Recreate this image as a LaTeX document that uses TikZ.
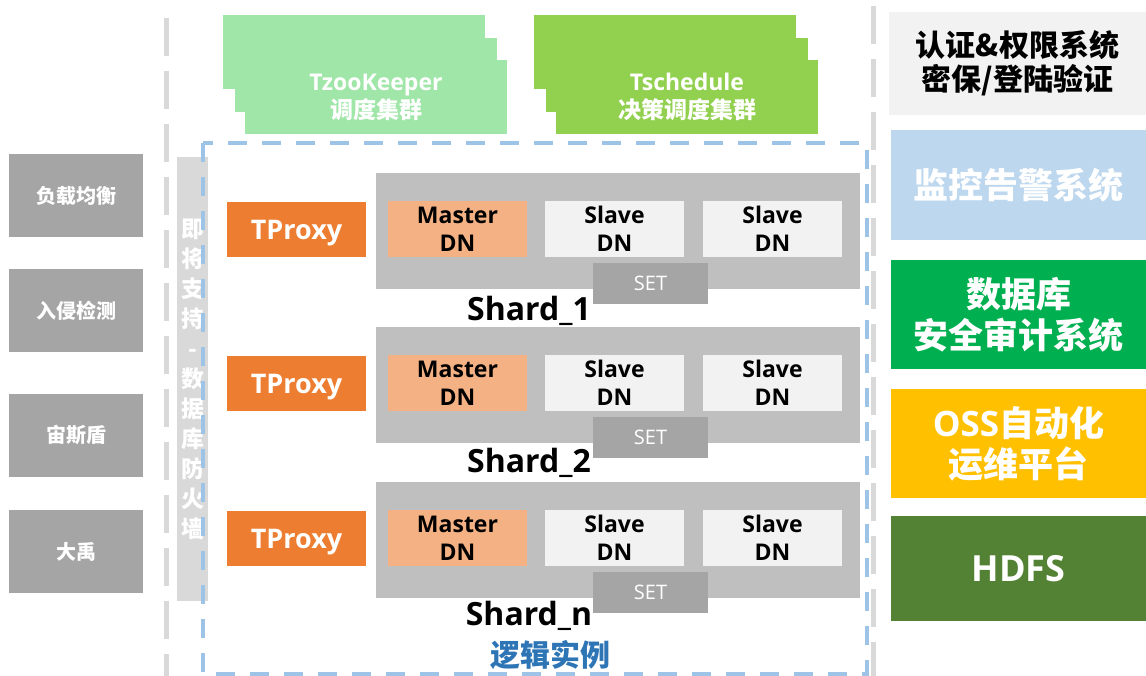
\documentclass[tikz,border=0pt]{standalone}
\usepackage{fontspec}
\setmainfont{Noto Sans CJK SC}
\newfontfamily\latinfont{Open Sans}
\newcommand{\setfs}[2]{\fontsize{#1}{#2}\selectfont}
% Colours
\definecolor{zkgreen}{HTML}{A0E6A8}
\definecolor{tsgreen}{HTML}{92D050}
\definecolor{sepgray}{HTML}{D9D9D9}
\definecolor{instblue}{HTML}{9DC3E6}
\definecolor{sidegray}{HTML}{A5A5A5}
\definecolor{proxyorange}{HTML}{ED7D31}
\definecolor{shardgray}{HTML}{BFBFBF}
\definecolor{masterorange}{HTML}{F4B183}
\definecolor{slavegray}{HTML}{F2F2F2}
\definecolor{monblue}{HTML}{BDD7EE}
\definecolor{auditgreen}{HTML}{00B050}
\definecolor{ossgold}{HTML}{FFC000}
\definecolor{hdfsgreen}{HTML}{548235}
\definecolor{logicblue}{HTML}{2E75B6}
\tikzset{
  block/.style={anchor=north west, inner sep=0pt, outer sep=0pt, align=center},
  sepline/.style={sepgray, line width=5pt, dash pattern=on 38pt off 15pt},
  instline/.style={instblue, line width=4pt, dash pattern=on 19pt off 15pt},
  sidebox/.style={block, fill=sidegray, text=white, minimum width=134pt, minimum height=83pt,
    font=\bfseries\setfs{20}{24}},
  proxybox/.style={block, fill=proxyorange, text=white, minimum width=139pt, minimum height=55pt,
    text depth=0pt, font=\latinfont\bfseries\setfs{27}{30}},
  dnbox/.style={block, minimum width=139pt, minimum height=56pt,
    font=\latinfont\bfseries\setfs{23}{28}},
  setbox/.style={block, fill=sidegray, text=white, minimum width=115pt, minimum height=41pt,
    font=\latinfont\setfs{20}{24}},
  shardlabel/.style={anchor=base, inner sep=0pt, font=\latinfont\bfseries\setfs{32}{36}},
  rightbox/.style={block, text=white, minimum width=255pt, font=\bfseries\setfs{35}{41}}
}

\begin{document}
\begin{tikzpicture}[x=1pt,y=-1pt]
    \useasboundingbox (0,0) rectangle (1146,676);
    % Gray dashed separators
    \draw[sepline] (166,18) -- (166,676);
    \draw[sepline] (873,6) -- (873,676);
    % Stacked cluster boxes at the top
    \foreach \k/\dx/\dy in {1/0/0, 2/12/23, 3/22/45} {
      \node[block, fill=zkgreen, minimum width=262pt, minimum height=74pt] (zk\k) at (223+\dx,15+\dy) {};
      \node[block, fill=tsgreen, minimum width=262pt, minimum height=74pt] (ts\k) at (534+\dx,15+\dy) {};
    }
    \node[align=center, text=white, inner sep=0pt, font=\bfseries\setfs{23}{28}] (zktext) at (zk3) {{\latinfont TzooKeeper}\\调度集群};
    \node[align=center, text=white, inner sep=0pt, font=\bfseries\setfs{23}{28}] (tstext) at (ts3) {{\latinfont Tschedule}\\决策调度集群};
    % Firewall bar
    \node[block, fill=sepgray, minimum width=31pt, minimum height=444pt] (fwbar) at (177,157) {};
    \node[align=center, text=white, inner sep=0pt, font=\bfseries\setfs{23}{30}] (fwtext) at (fwbar) {即\\将\\支\\持\\-\\数\\据\\库\\防\\火\\墙};
    % Logical instance frame
    \draw[instline] (203,143) rectangle (867,674);
    % Left side boxes
    \foreach \name/\y/\lbl in {lb/154/负载均衡, ids/269/入侵检测, zeus/394/宙斯盾, dayu/510/大禹}
    \node[sidebox] (\name) at (9,\y) {\lbl};
    % Shards with proxies
    \foreach \n/\dy/\lbl/\ly in {1/0/1/320, 2/154/2/472, 3/309/n/625} {
      \node[proxybox] (proxy\n) at (227,202+\dy) {TProxy};
      \node[block, fill=shardgray, minimum width=484pt, minimum height=116pt] (shard\n) at (376,173+\dy) {};
      \node[dnbox, fill=masterorange] (master\n) at (388,201+\dy) {Master\\DN};
      \node[dnbox, fill=slavegray] (slaveA\n) at (545,201+\dy) {Slave\\DN};
      \node[dnbox, fill=slavegray] (slaveB\n) at (703,201+\dy) {Slave\\DN};
      \node[setbox] (set\n) at (593,263+\dy) {SET};
      \node[shardlabel] (label\n) at (529,\ly) {Shard\_\lbl};
    }
    \node[inner sep=0pt, text=logicblue, font=\bfseries\setfs{30}{34}] (logic) at (550,655) {逻辑实例};
    % Right side systems
    \node[block, fill=slavegray, minimum width=257pt, minimum height=103pt, font=\bfseries\setfs{30}{34}] (auth) at (889,12) {认证\&权限系统\\密保/登陆验证};
    \node[rightbox, fill=monblue, minimum height=110pt] (monitor) at (891,130) {监控告警系统};
    \node[rightbox, fill=auditgreen, minimum height=109pt] (audit) at (891,260) {数据库\\安全审计系统};
    \node[rightbox, fill=ossgold, minimum height=109pt] (oss) at (891,389) {{\latinfont OSS}自动化\\运维平台};
    \node[rightbox, fill=hdfsgreen, minimum height=105pt, font=\latinfont\bfseries\setfs{36}{40}] (hdfs) at (891,516) {HDFS};
\end{tikzpicture}
\end{document}
